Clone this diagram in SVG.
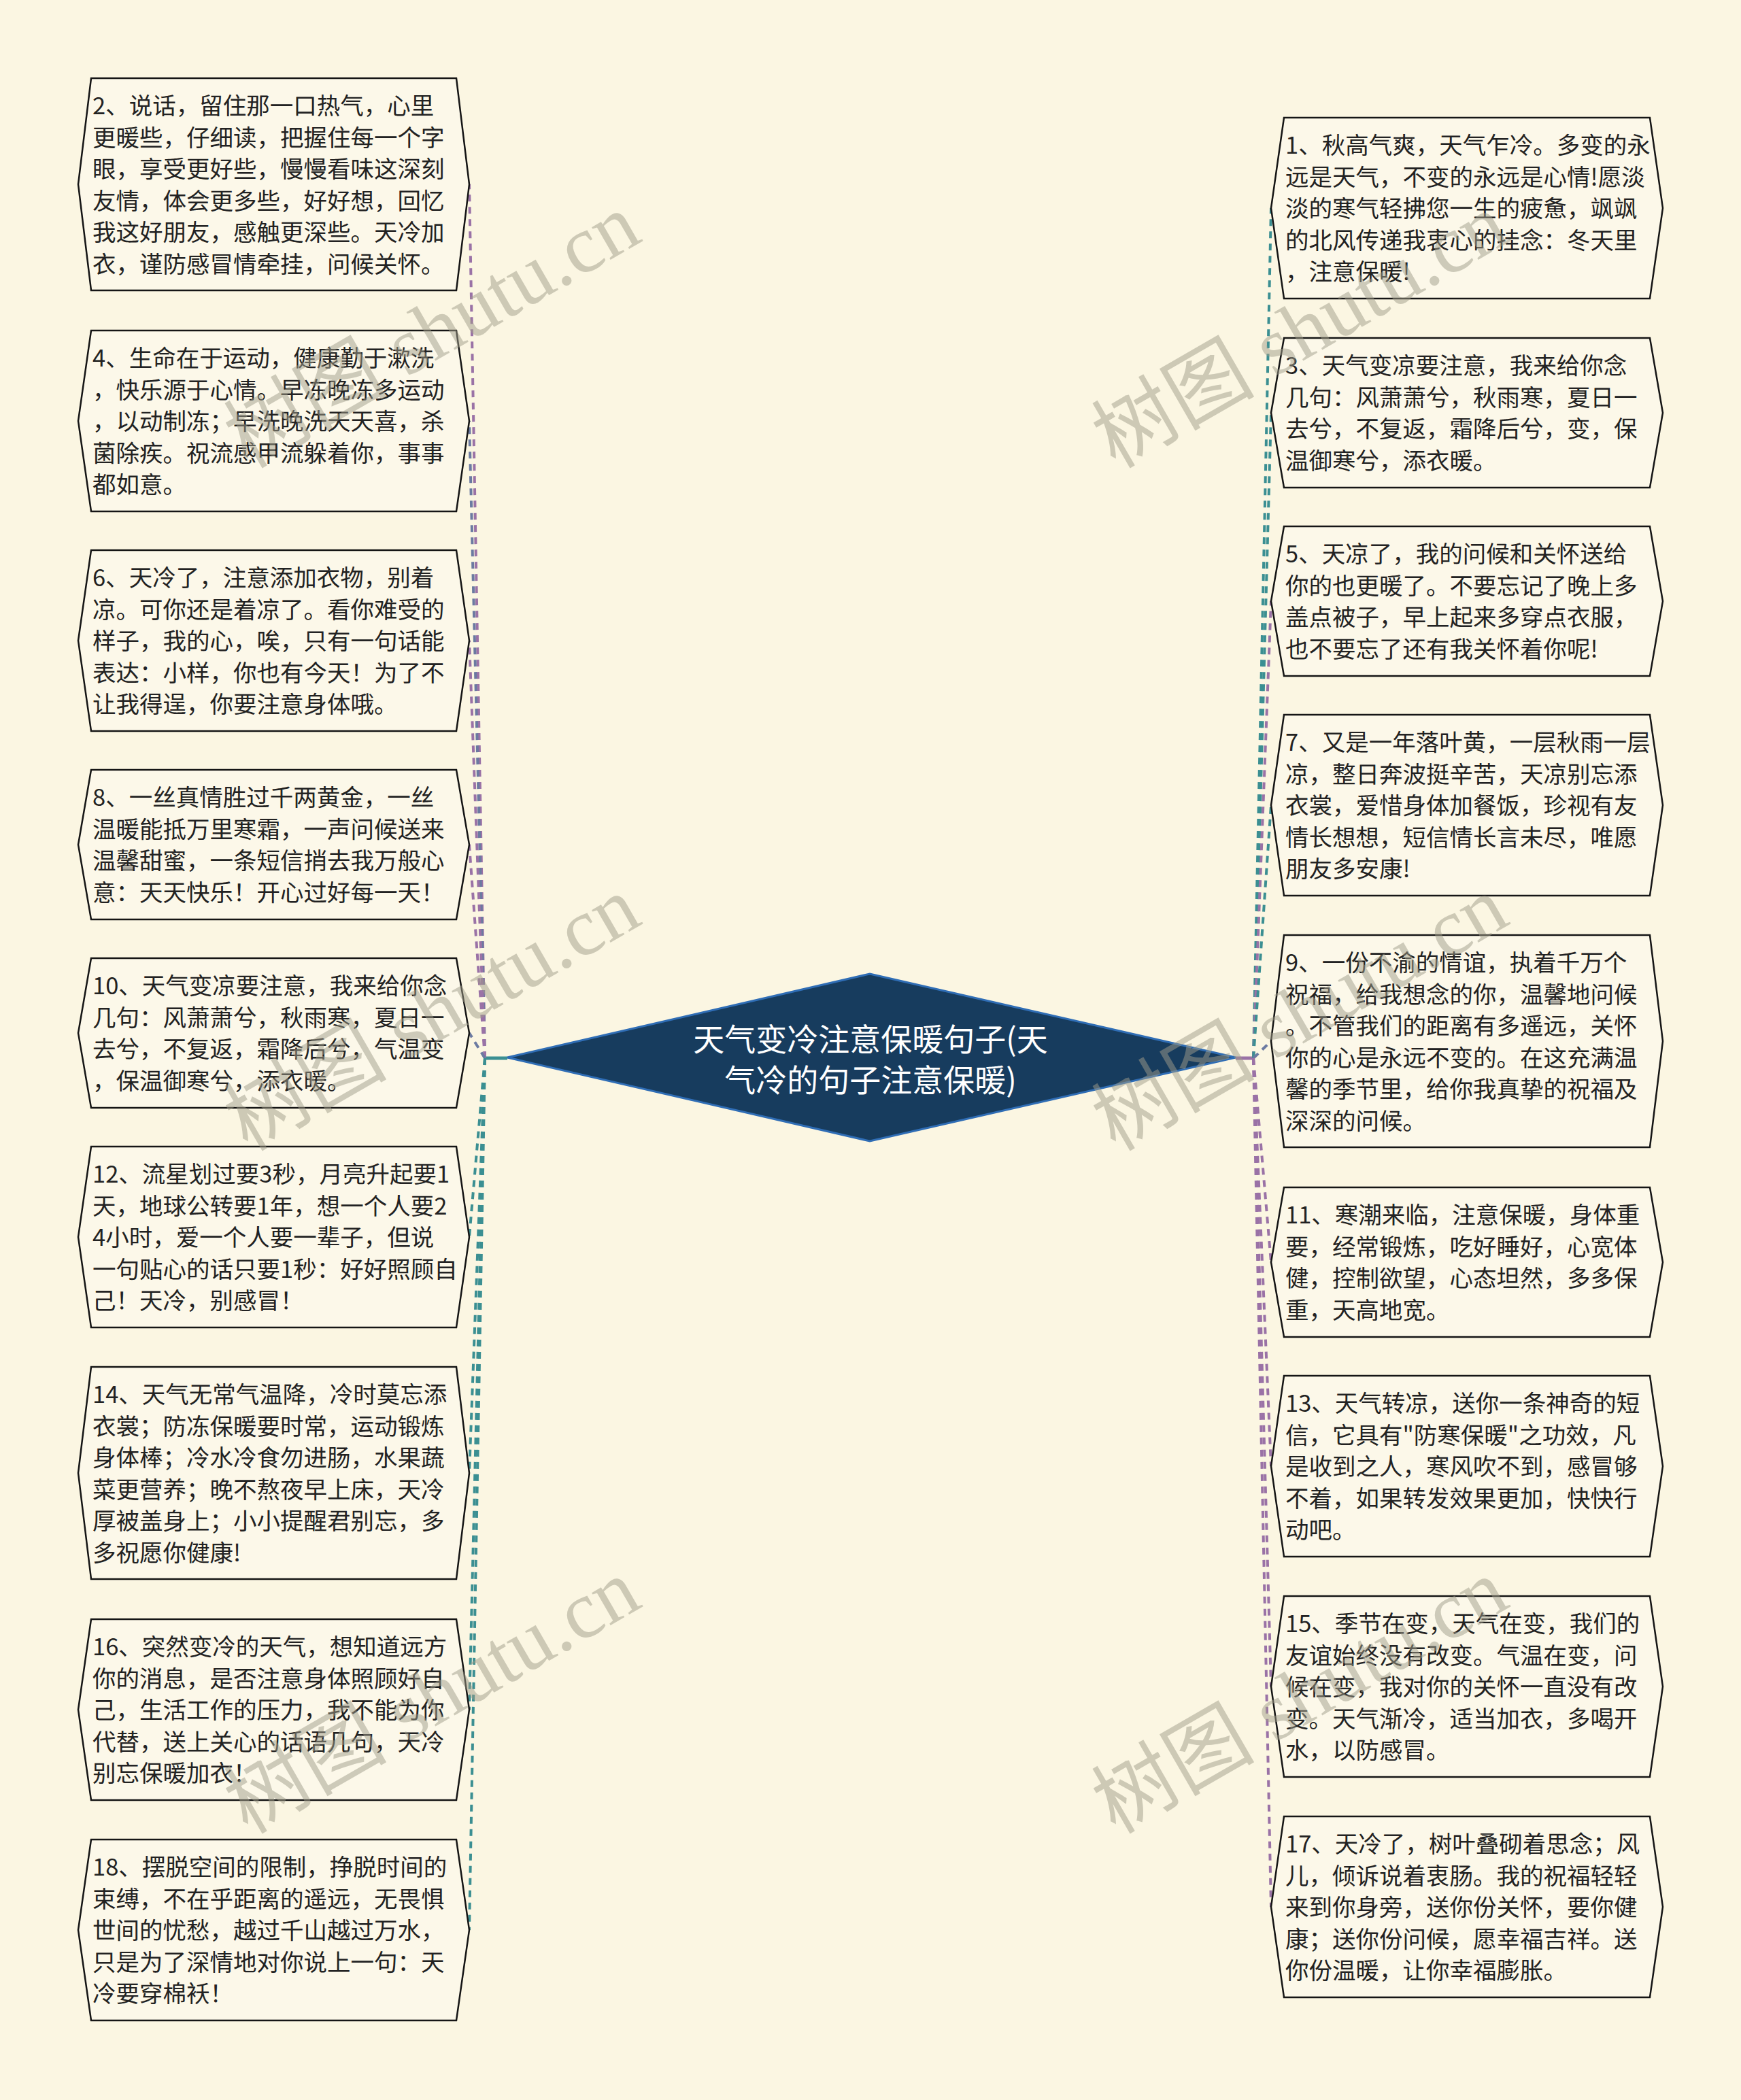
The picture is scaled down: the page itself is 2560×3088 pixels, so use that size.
<svg xmlns="http://www.w3.org/2000/svg" width="2560" height="3088" viewBox="0 0 2560 3088">
<style>
.nd polygon{fill:#fcf8e9;stroke:#151515;stroke-width:2.5}
.nd text{font-family:"Noto Sans CJK SC","Noto Sans",sans-serif;font-size:34.5px;fill:#222}
.c{fill:none;stroke-width:4;stroke-dasharray:10 8}
.p{stroke:#9a72a6}.b{stroke:#6b7aa1}.t{stroke:#3b8f92}
.wm{font-family:"Liberation Serif","Noto Sans CJK SC",serif;font-size:120px;fill:#a09d8a;opacity:0.5}
</style>
<rect width="2560" height="3088" fill="#fbf6e2"/>
<g id="connectors">
<path d="M746,1556 L713,1556" stroke="#3b8f92" stroke-width="5" fill="none"/>
<path d="M1817,1556 L1843,1556" stroke="#9a72a6" stroke-width="5" fill="none"/>
<path class="c p" d="M713,1556 L690,271"/>
<path class="c b" d="M713,1556 L690,619"/>
<path class="c p" d="M713,1556 L690,942"/>
<path class="c p" d="M713,1556 L690,1242"/>
<path class="c b" d="M713,1556 L690,1519"/>
<path class="c t" d="M713,1556 L690,1819"/>
<path class="c t" d="M713,1556 L690,2166"/>
<path class="c t" d="M713,1556 L690,2514"/>
<path class="c t" d="M713,1556 L690,2838"/>
<path class="c t" d="M1843,1556 L1869,306"/>
<path class="c t" d="M1843,1556 L1869,607"/>
<path class="c p" d="M1843,1556 L1869,884"/>
<path class="c t" d="M1843,1556 L1869,1184"/>
<path class="c b" d="M1843,1556 L1869,1531"/>
<path class="c p" d="M1843,1556 L1869,1856"/>
<path class="c p" d="M1843,1556 L1869,2156"/>
<path class="c p" d="M1843,1556 L1869,2480"/>
<path class="c p" d="M1843,1556 L1869,2804"/>
</g>
<g id="center">
<polygon points="746,1555 1279,1432 1817,1555 1279,1678" fill="#173c5e" stroke="#2f6db5" stroke-width="3"/>
<text x="1280" y="1545" text-anchor="middle" font-family="Noto Sans CJK SC, sans-serif" font-size="46" fill="#fff">天气变冷注意保暖句子(天</text>
<text x="1280" y="1605" text-anchor="middle" font-family="Noto Sans CJK SC, sans-serif" font-size="46" fill="#fff">气冷的句子注意保暖)</text>
</g>
<g id="n2" class="nd"><polygon points="134,115 671,115 690,271 671,427 134,427 115,271"/>
<text x="136" y="168"><tspan x="136">2、说话，留住那一口热气，心里</tspan><tspan x="136" dy="46.5">更暖些，仔细读，把握住每一个字</tspan><tspan x="136" dy="46.5">眼，享受更好些，慢慢看味这深刻</tspan><tspan x="136" dy="46.5">友情，体会更多些，好好想，回忆</tspan><tspan x="136" dy="46.5">我这好朋友，感触更深些。天冷加</tspan><tspan x="136" dy="46.5">衣，谨防感冒情牵挂，问候关怀。</tspan></text></g>
<g id="n4" class="nd"><polygon points="134,486 671,486 690,619 671,752 134,752 115,619"/>
<text x="136" y="539"><tspan x="136">4、生命在于运动，健康勤于漱洗</tspan><tspan x="136" dy="46.5">，快乐源于心情。早冻晚冻多运动</tspan><tspan x="136" dy="46.5">，以动制冻；早洗晚洗天天喜，杀</tspan><tspan x="136" dy="46.5">菌除疾。祝流感甲流躲着你，事事</tspan><tspan x="136" dy="46.5">都如意。</tspan></text></g>
<g id="n6" class="nd"><polygon points="134,809 671,809 690,942 671,1075 134,1075 115,942"/>
<text x="136" y="862"><tspan x="136">6、天冷了，注意添加衣物，别着</tspan><tspan x="136" dy="46.5">凉。可你还是着凉了。看你难受的</tspan><tspan x="136" dy="46.5">样子，我的心，唉，只有一句话能</tspan><tspan x="136" dy="46.5">表达：小样，你也有今天！为了不</tspan><tspan x="136" dy="46.5">让我得逞，你要注意身体哦。</tspan></text></g>
<g id="n8" class="nd"><polygon points="134,1132 671,1132 690,1242 671,1352 134,1352 115,1242"/>
<text x="136" y="1185"><tspan x="136">8、一丝真情胜过千两黄金，一丝</tspan><tspan x="136" dy="46.5">温暖能抵万里寒霜，一声问候送来</tspan><tspan x="136" dy="46.5">温馨甜蜜，一条短信捎去我万般心</tspan><tspan x="136" dy="46.5">意：天天快乐！开心过好每一天！</tspan></text></g>
<g id="n10" class="nd"><polygon points="134,1409 671,1409 690,1519 671,1629 134,1629 115,1519"/>
<text x="136" y="1462"><tspan x="136">10、天气变凉要注意，我来给你念</tspan><tspan x="136" dy="46.5">几句：风萧萧兮，秋雨寒，夏日一</tspan><tspan x="136" dy="46.5">去兮，不复返，霜降后兮，气温变</tspan><tspan x="136" dy="46.5">，保温御寒兮，添衣暖。</tspan></text></g>
<g id="n12" class="nd"><polygon points="134,1686 671,1686 690,1819 671,1952 134,1952 115,1819"/>
<text x="136" y="1739"><tspan x="136">12、流星划过要3秒，月亮升起要1</tspan><tspan x="136" dy="46.5">天，地球公转要1年，想一个人要2</tspan><tspan x="136" dy="46.5">4小时，爱一个人要一辈子，但说</tspan><tspan x="136" dy="46.5">一句贴心的话只要1秒：好好照顾自</tspan><tspan x="136" dy="46.5">己！天冷，别感冒！</tspan></text></g>
<g id="n14" class="nd"><polygon points="134,2010 671,2010 690,2166 671,2322 134,2322 115,2166"/>
<text x="136" y="2063"><tspan x="136">14、天气无常气温降，冷时莫忘添</tspan><tspan x="136" dy="46.5">衣裳；防冻保暖要时常，运动锻炼</tspan><tspan x="136" dy="46.5">身体棒；冷水冷食勿进肠，水果蔬</tspan><tspan x="136" dy="46.5">菜更营养；晚不熬夜早上床，天冷</tspan><tspan x="136" dy="46.5">厚被盖身上；小小提醒君别忘，多</tspan><tspan x="136" dy="46.5">多祝愿你健康!</tspan></text></g>
<g id="n16" class="nd"><polygon points="134,2381 671,2381 690,2514 671,2647 134,2647 115,2514"/>
<text x="136" y="2434"><tspan x="136">16、突然变冷的天气，想知道远方</tspan><tspan x="136" dy="46.5">你的消息，是否注意身体照顾好自</tspan><tspan x="136" dy="46.5">己，生活工作的压力，我不能为你</tspan><tspan x="136" dy="46.5">代替，送上关心的话语几句，天冷</tspan><tspan x="136" dy="46.5">别忘保暖加衣！</tspan></text></g>
<g id="n18" class="nd"><polygon points="134,2705 671,2705 690,2838 671,2971 134,2971 115,2838"/>
<text x="136" y="2758"><tspan x="136">18、摆脱空间的限制，挣脱时间的</tspan><tspan x="136" dy="46.5">束缚，不在乎距离的遥远，无畏惧</tspan><tspan x="136" dy="46.5">世间的忧愁，越过千山越过万水，</tspan><tspan x="136" dy="46.5">只是为了深情地对你说上一句：天</tspan><tspan x="136" dy="46.5">冷要穿棉袄！</tspan></text></g>
<g id="n1" class="nd"><polygon points="1888,173 2426,173 2445,306 2426,439 1888,439 1869,306"/>
<text x="1890" y="226"><tspan x="1890">1、秋高气爽，天气乍冷。多变的永</tspan><tspan x="1890" dy="46.5">远是天气，不变的永远是心情!愿淡</tspan><tspan x="1890" dy="46.5">淡的寒气轻拂您一生的疲惫，飒飒</tspan><tspan x="1890" dy="46.5">的北风传递我衷心的挂念：冬天里</tspan><tspan x="1890" dy="46.5">，注意保暖!</tspan></text></g>
<g id="n3" class="nd"><polygon points="1888,497 2426,497 2445,607 2426,717 1888,717 1869,607"/>
<text x="1890" y="550"><tspan x="1890">3、天气变凉要注意，我来给你念</tspan><tspan x="1890" dy="46.5">几句：风萧萧兮，秋雨寒，夏日一</tspan><tspan x="1890" dy="46.5">去兮，不复返，霜降后兮，变，保</tspan><tspan x="1890" dy="46.5">温御寒兮，添衣暖。</tspan></text></g>
<g id="n5" class="nd"><polygon points="1888,774 2426,774 2445,884 2426,994 1888,994 1869,884"/>
<text x="1890" y="827"><tspan x="1890">5、天凉了，我的问候和关怀送给</tspan><tspan x="1890" dy="46.5">你的也更暖了。不要忘记了晚上多</tspan><tspan x="1890" dy="46.5">盖点被子，早上起来多穿点衣服，</tspan><tspan x="1890" dy="46.5">也不要忘了还有我关怀着你呢!</tspan></text></g>
<g id="n7" class="nd"><polygon points="1888,1051 2426,1051 2445,1184 2426,1317 1888,1317 1869,1184"/>
<text x="1890" y="1104"><tspan x="1890">7、又是一年落叶黄，一层秋雨一层</tspan><tspan x="1890" dy="46.5">凉，整日奔波挺辛苦，天凉别忘添</tspan><tspan x="1890" dy="46.5">衣裳，爱惜身体加餐饭，珍视有友</tspan><tspan x="1890" dy="46.5">情长想想，短信情长言未尽，唯愿</tspan><tspan x="1890" dy="46.5">朋友多安康!</tspan></text></g>
<g id="n9" class="nd"><polygon points="1888,1375 2426,1375 2445,1531 2426,1687 1888,1687 1869,1531"/>
<text x="1890" y="1428"><tspan x="1890">9、一份不渝的情谊，执着千万个</tspan><tspan x="1890" dy="46.5">祝福，给我想念的你，温馨地问候</tspan><tspan x="1890" dy="46.5">。不管我们的距离有多遥远，关怀</tspan><tspan x="1890" dy="46.5">你的心是永远不变的。在这充满温</tspan><tspan x="1890" dy="46.5">馨的季节里，给你我真挚的祝福及</tspan><tspan x="1890" dy="46.5">深深的问候。</tspan></text></g>
<g id="n11" class="nd"><polygon points="1888,1746 2426,1746 2445,1856 2426,1966 1888,1966 1869,1856"/>
<text x="1890" y="1799"><tspan x="1890">11、寒潮来临，注意保暖，身体重</tspan><tspan x="1890" dy="46.5">要，经常锻炼，吃好睡好，心宽体</tspan><tspan x="1890" dy="46.5">健，控制欲望，心态坦然，多多保</tspan><tspan x="1890" dy="46.5">重，天高地宽。</tspan></text></g>
<g id="n13" class="nd"><polygon points="1888,2023 2426,2023 2445,2156 2426,2289 1888,2289 1869,2156"/>
<text x="1890" y="2076"><tspan x="1890">13、天气转凉，送你一条神奇的短</tspan><tspan x="1890" dy="46.5">信，它具有"防寒保暖"之功效，凡</tspan><tspan x="1890" dy="46.5">是收到之人，寒风吹不到，感冒够</tspan><tspan x="1890" dy="46.5">不着，如果转发效果更加，快快行</tspan><tspan x="1890" dy="46.5">动吧。</tspan></text></g>
<g id="n15" class="nd"><polygon points="1888,2347 2426,2347 2445,2480 2426,2613 1888,2613 1869,2480"/>
<text x="1890" y="2400"><tspan x="1890">15、季节在变，天气在变，我们的</tspan><tspan x="1890" dy="46.5">友谊始终没有改变。气温在变，问</tspan><tspan x="1890" dy="46.5">候在变，我对你的关怀一直没有改</tspan><tspan x="1890" dy="46.5">变。天气渐冷，适当加衣，多喝开</tspan><tspan x="1890" dy="46.5">水，以防感冒。</tspan></text></g>
<g id="n17" class="nd"><polygon points="1888,2671 2426,2671 2445,2804 2426,2937 1888,2937 1869,2804"/>
<text x="1890" y="2724"><tspan x="1890">17、天冷了，树叶叠砌着思念；风</tspan><tspan x="1890" dy="46.5">儿，倾诉说着衷肠。我的祝福轻轻</tspan><tspan x="1890" dy="46.5">来到你身旁，送你份关怀，要你健</tspan><tspan x="1890" dy="46.5">康；送你份问候，愿幸福吉祥。送</tspan><tspan x="1890" dy="46.5">你份温暖，让你幸福膨胀。</tspan></text></g>
<g id="watermarks">
<text class="wm" transform="translate(364,690) rotate(-30)">树图 shutu.cn</text>
<text class="wm" transform="translate(364,1694) rotate(-30)">树图 shutu.cn</text>
<text class="wm" transform="translate(364,2698) rotate(-30)">树图 shutu.cn</text>
<text class="wm" transform="translate(1640,690) rotate(-30)">树图 shutu.cn</text>
<text class="wm" transform="translate(1640,1694) rotate(-30)">树图 shutu.cn</text>
<text class="wm" transform="translate(1640,2698) rotate(-30)">树图 shutu.cn</text>
</g>
</svg>
